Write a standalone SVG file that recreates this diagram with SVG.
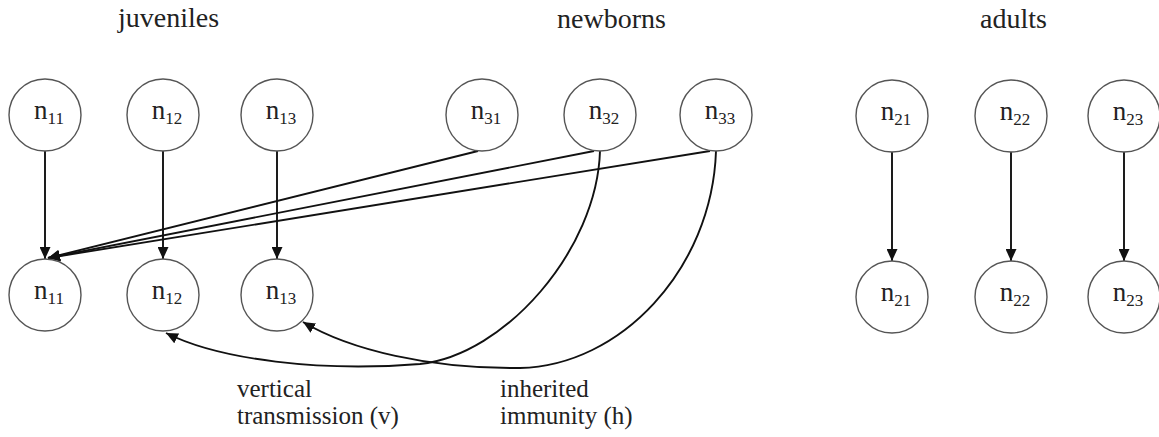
<svg xmlns="http://www.w3.org/2000/svg" width="1159" height="437" viewBox="0 0 1159 437">
<defs>
<marker id="arr" markerUnits="userSpaceOnUse" markerWidth="12" markerHeight="11" refX="12" refY="5.5" orient="auto">
<path d="M0,0 L12,5.5 L0,11 Z" fill="#111"/>
</marker>
</defs>
<style>
.node circle{fill:#fff;stroke:#555;stroke-width:1.4}
.lbl{font-family:"Liberation Serif","Times New Roman",serif;font-size:27px;fill:#222;text-anchor:middle}
.sub{font-size:17px}
.edge{fill:none;stroke:#111;stroke-width:1.9;marker-end:url(#arr)}
.title{font-family:"Liberation Serif","Times New Roman",serif;font-size:28px;fill:#222}
.note{font-family:"Liberation Serif","Times New Roman",serif;font-size:25px;fill:#222}
</style>
<rect width="1159" height="437" fill="#fff"/>
<text class="title" x="118" y="27">juveniles</text>
<text class="title" x="557" y="28">newborns</text>
<text class="title" x="980" y="28">adults</text>
<g id="connectors">
<line class="edge" x1="45" y1="151" x2="45" y2="259"/>
<line class="edge" x1="163" y1="151" x2="163" y2="259"/>
<line class="edge" x1="277" y1="151" x2="277" y2="259"/>
<line class="edge" x1="478" y1="151" x2="48" y2="258"/>
<line class="edge" x1="594" y1="151" x2="48" y2="258"/>
<line class="edge" x1="710" y1="151" x2="48" y2="258"/>
<path class="edge" d="M600,151 C597,250 505,355 420,364 C320,372 220,360 166,333"/>
<path class="edge" d="M716,151 C712,270 620,366 520,368 C430,369 350,350 303,322"/>
<line class="edge" x1="892" y1="152" x2="892" y2="261"/>
<line class="edge" x1="1011" y1="152" x2="1011" y2="261"/>
<line class="edge" x1="1124" y1="152" x2="1124" y2="261"/>
</g>
<g id="j11_top" class="node"><circle cx="45" cy="115" r="36"/><text class="lbl" x="49" y="119">n<tspan class="sub" dy="5">11</tspan></text></g>
<g id="j12_top" class="node"><circle cx="163" cy="115" r="36"/><text class="lbl" x="167" y="119">n<tspan class="sub" dy="5">12</tspan></text></g>
<g id="j13_top" class="node"><circle cx="277" cy="115" r="36"/><text class="lbl" x="281" y="119">n<tspan class="sub" dy="5">13</tspan></text></g>
<g id="nb31" class="node"><circle cx="482" cy="115" r="36"/><text class="lbl" x="486" y="119">n<tspan class="sub" dy="5">31</tspan></text></g>
<g id="nb32" class="node"><circle cx="600" cy="115" r="36"/><text class="lbl" x="604" y="119">n<tspan class="sub" dy="5">32</tspan></text></g>
<g id="nb33" class="node"><circle cx="716" cy="115" r="36"/><text class="lbl" x="720" y="119">n<tspan class="sub" dy="5">33</tspan></text></g>
<g id="a21_top" class="node"><circle cx="892" cy="116" r="36"/><text class="lbl" x="896" y="120">n<tspan class="sub" dy="5">21</tspan></text></g>
<g id="a22_top" class="node"><circle cx="1011" cy="116" r="36"/><text class="lbl" x="1015" y="120">n<tspan class="sub" dy="5">22</tspan></text></g>
<g id="a23_top" class="node"><circle cx="1124" cy="116" r="36"/><text class="lbl" x="1128" y="120">n<tspan class="sub" dy="5">23</tspan></text></g>
<g id="j11_bot" class="node"><circle cx="45" cy="295" r="36"/><text class="lbl" x="49" y="299">n<tspan class="sub" dy="5">11</tspan></text></g>
<g id="j12_bot" class="node"><circle cx="163" cy="295" r="36"/><text class="lbl" x="167" y="299">n<tspan class="sub" dy="5">12</tspan></text></g>
<g id="j13_bot" class="node"><circle cx="277" cy="295" r="36"/><text class="lbl" x="281" y="299">n<tspan class="sub" dy="5">13</tspan></text></g>
<g id="a21_bot" class="node"><circle cx="892" cy="297" r="36"/><text class="lbl" x="896" y="301">n<tspan class="sub" dy="5">21</tspan></text></g>
<g id="a22_bot" class="node"><circle cx="1011" cy="297" r="36"/><text class="lbl" x="1015" y="301">n<tspan class="sub" dy="5">22</tspan></text></g>
<g id="a23_bot" class="node"><circle cx="1124" cy="297" r="36"/><text class="lbl" x="1128" y="301">n<tspan class="sub" dy="5">23</tspan></text></g>
<text class="note" x="237" y="397">vertical</text>
<text class="note" x="237" y="424">transmission (v)</text>
<text class="note" x="500" y="397">inherited</text>
<text class="note" x="500" y="424">immunity (h)</text>
</svg>
